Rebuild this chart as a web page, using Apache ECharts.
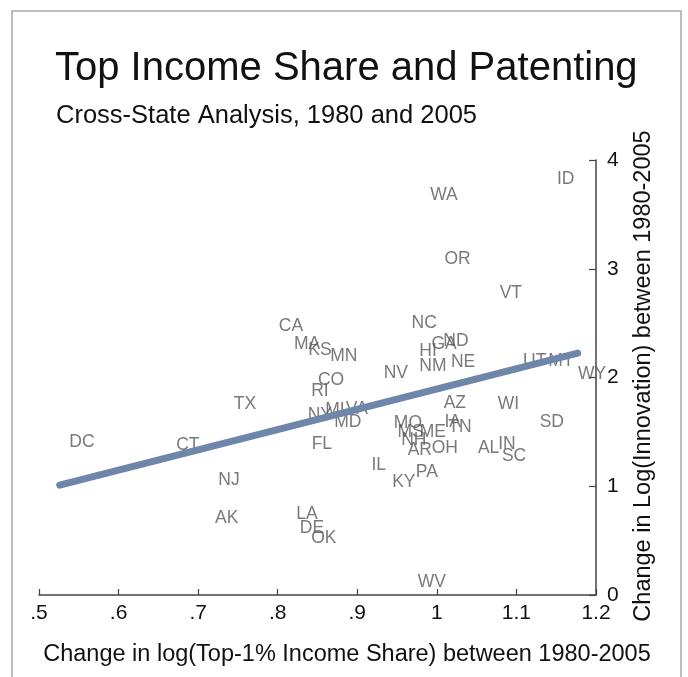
<!DOCTYPE html>
<html>
<head>
<meta charset="utf-8">
<script src="https://cdn.jsdelivr.net/npm/echarts@6/dist/echarts.min.js"></script>
<style>
html,body{margin:0;padding:0;background:#fff;}
#chart{width:688px;height:677px;}
</style>
</head>
<body>
<div id="chart"></div>
<script>
// State labels and values
const states = ['ID','WA','OR','VT','NC','GA','ND','HI','NM','NE','NV','UT','MT','WY',
  'CA','MA','KS','MN','CO','RI','NY','MI','VA','MD','FL','TX','DC','CT','NJ','AK','LA','DE','OK',
  'MO','MS','ME','NH','AR','OH','IA','TN','AZ','WI','SD','AL','IN','SC','PA','KY','IL','WV'];
const xValues = [1.162,1.009,1.026,1.093,0.984,1.009,1.024,0.989,0.995,1.033,0.9485,1.123,1.156,1.195,
  0.8166,0.837,0.853,0.883,0.867,0.853,0.853,0.872,0.8995,0.888,0.8555,0.7588,0.554,0.687,0.7387,0.736,0.8367,0.843,0.858,
  0.9636,0.967,0.995,0.971,0.9786,1.010,1.020,1.029,1.0226,1.090,1.1445,1.065,1.088,1.097,0.9874,0.9585,0.927,0.9937];
const yValues = [3.82,3.68,3.09,2.78,2.50,2.31,2.33,2.24,2.10,2.14,2.04,2.15,2.15,2.03,
  2.47,2.31,2.25,2.20,1.98,1.87,1.65,1.70,1.71,1.59,1.39,1.756,1.407,1.38,1.057,0.708,0.745,0.616,0.524,
  1.58,1.50,1.50,1.42,1.33,1.35,1.59,1.545,1.765,1.756,1.59,1.35,1.39,1.28,1.13,1.04,1.195,0.12];
// Fitted line endpoints
const fitX = [0.526, 1.177];
const fitY = [1.01, 2.225];
// Tick labels
const xTickLabels = ['.5','.6','.7','.8','.9','1','1.1','1.2'];
const yTickLabels = ['0','1','2','3','4'];

const FONT = 'Liberation Sans, Arial, Helvetica, sans-serif';
const chart = echarts.init(document.getElementById('chart'), null, {renderer:'canvas'});

const scatterData = states.map((s,i)=>({name:s, value:[xValues[i], yValues[i]]}));
const fitData = fitX.map((x,i)=>[x, fitY[i]]);

chart.setOption({
  animation:false,
  backgroundColor:'#ffffff',
  title:[
    {text:'Top Income Share and Patenting', left:50, top:44,
     textStyle:{fontFamily:FONT, fontSize:40, fontWeight:'normal', color:'#111'}},
    {text:'Cross-State Analysis, 1980 and 2005', left:51, top:98,
     textStyle:{fontFamily:FONT, fontSize:25.5, fontWeight:'normal', color:'#111'}}
  ],
  graphic:[
    {type:'rect', shape:{x:12, y:11, width:669, height:690}, silent:true,
     style:{fill:null, stroke:'#a8a8a8', lineWidth:1.5}, z:-1},
    {type:'text', x:347, y:655, silent:true,
     style:{text:'Change in log(Top-1% Income Share) between 1980-2005', fontFamily:FONT, fontSize:23.5,
            fill:'#111', textAlign:'center', textVerticalAlign:'middle'}},
    {type:'text', x:644, y:376, rotation:Math.PI/2, silent:true,
     style:{text:'Change in Log(Innovation) between 1980-2005', fontFamily:FONT, fontSize:23.5,
            fill:'#111', textAlign:'center', textVerticalAlign:'middle'}}
  ],
  grid:{left:39, right:92, top:160, bottom:82, containLabel:false},
  xAxis:{
    type:'value', min:0.5, max:1.2, interval:0.1,
    splitLine:{show:false},
    axisLine:{show:true, onZero:false, lineStyle:{color:'#444', width:1.5}},
    axisTick:{show:true, inside:true, length:6, lineStyle:{color:'#444', width:1.2}},
    axisLabel:{margin:8, fontFamily:FONT, fontSize:21, color:'#111',
      formatter:(v)=>xTickLabels[Math.round((v-0.5)*10)]}
  },
  yAxis:{
    type:'value', position:'right', min:0, max:4, interval:1,
    splitLine:{show:false},
    axisLine:{show:true, onZero:false, lineStyle:{color:'#444', width:1.5}},
    axisTick:{show:true, inside:true, length:7, lineStyle:{color:'#444', width:1.2}},
    axisLabel:{margin:11, fontFamily:FONT, fontSize:21, color:'#111',
      formatter:(v)=>yTickLabels[Math.round(v)]}
  },
  series:[
    {type:'scatter', data:scatterData, symbolSize:0, z:2,
     label:{show:true, position:'inside', formatter:'{b}', fontFamily:FONT, fontSize:17.5, color:'#56575a'},
     emphasis:{disabled:true}},
    {type:'line', data:fitData, showSymbol:false, symbol:'none', z:5,
     lineStyle:{color:'#6d86a9', width:7, cap:'round'}}
  ]
});
</script>
</body>
</html>
